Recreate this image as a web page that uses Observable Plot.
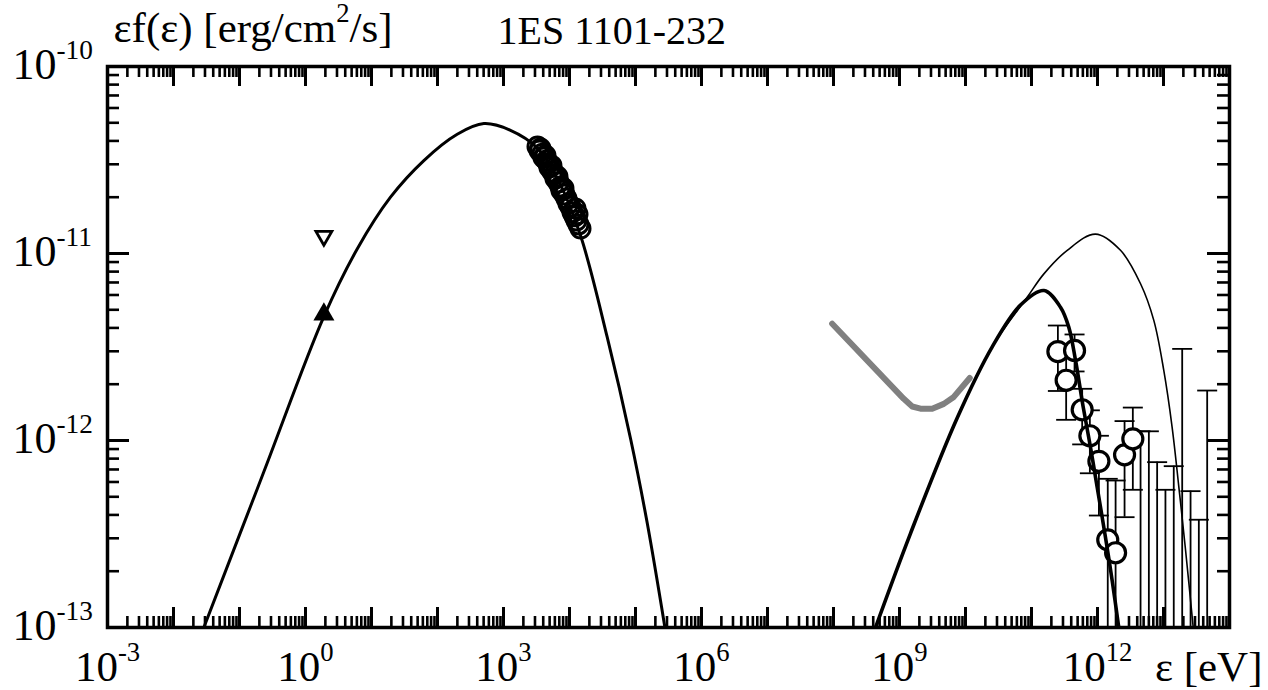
<!DOCTYPE html>
<html>
<head>
<meta charset="utf-8">
<script src="https://cdn.jsdelivr.net/npm/d3@7"></script>
<script src="https://cdn.jsdelivr.net/npm/@observablehq/plot@0.6"></script>
<style>
  html, body { margin: 0; padding: 0; background: #fff; }
</style>
</head>
<body>
<div id="chart"></div>
<script>
// ---------------- data ----------------
// synchrotron model curve (thick black, left hump)
const syncE = [2.88e-2, 0.233, 1.89, 6.07, 19.4, 62.1, 199, 504, 1276, 3243, 6516, 1.469e4, 3.72e4, 8.39e4, 1.503e5, 2.79e5];
const syncF = [1.0e-13, 6.78e-13, 4.58e-12, 1.057e-11, 2.0e-11, 3.14e-11, 4.34e-11, 4.95e-11, 4.56e-11, 3.67e-11, 2.53e-11, 1.247e-11, 3.58e-12, 1.028e-12, 3.63e-13, 1.0e-13];

// inverse-Compton model, EBL-absorbed (thick black, right hump)
const icE = [4.33e8, 1.47e9, 7.48e9, 2.54e10, 6.81e10, 1.54e11, 2.75e11, 3.67e11, 4.65e11, 6.07e11, 7.83e11, 9.89e11, 1.32e12, 1.67e12, 2.10e12];
const icF = [1.0e-13, 3.19e-13, 1.32e-12, 3.17e-12, 5.30e-12, 6.34e-12, 5.16e-12, 4.04e-12, 2.68e-12, 1.51e-12, 9.20e-13, 5.62e-13, 3.04e-13, 1.78e-13, 1.0e-13];

// inverse-Compton model, intrinsic (thin black)
const ic2E = [4.33e8, 1.47e9, 7.48e9, 2.54e10, 8.59e10, 1.54e11, 3.48e11, 9.33e11, 2.23e12, 4.49e12, 7.13e12, 1.01e13, 1.35e13, 1.71e13, 2.15e13, 2.82e13];
const ic2F = [1.0e-13, 3.19e-13, 1.32e-12, 3.17e-12, 5.83e-12, 7.78e-12, 1.04e-11, 1.27e-11, 1.04e-11, 6.89e-12, 4.39e-12, 2.37e-12, 1.18e-12, 5.62e-13, 2.63e-13, 1.0e-13];

// Fermi-LAT limit (grey)
const grayE = [9.55e7, 1.16e9, 1.56e9, 2.08e9, 3.13e9, 4.69e9, 6.65e9, 1.16e10];
const grayF = [4.21e-12, 1.67e-12, 1.52e-12, 1.48e-12, 1.48e-12, 1.57e-12, 1.71e-12, 2.16e-12];

// X-ray data (open circles)
const xrayE = [3273, 3511, 3636, 3897, 4037, 4329, 4483, 4806, 4977, 5335, 5525, 5923, 6134, 6576, 6810, 7301, 7561, 8106, 8395, 9000, 9656, 1.035e4, 1.110e4, 1.190e4, 1.277e4, 1.369e4, 1.468e4, 1.322e4, 1.233e4];
const xrayF = [3.73e-11, 3.55e-11, 3.64e-11, 3.42e-11, 3.26e-11, 3.34e-11, 3.14e-11, 3.03e-11, 2.88e-11, 2.95e-11, 2.74e-11, 2.65e-11, 2.52e-11, 2.58e-11, 2.40e-11, 2.28e-11, 2.17e-11, 2.23e-11, 2.07e-11, 1.97e-11, 1.85e-11, 1.78e-11, 1.66e-11, 1.58e-11, 1.50e-11, 1.43e-11, 1.36e-11, 1.62e-11, 1.74e-11];

// optical points (triangles)
const optE = [1.9];
const optF = [4.72e-12];
const optUpperE = [1.9];
const optUpperF = [1.24e-11];

// TeV data with error bars (lo = 0: bar reaches the axis)
const tevE  = [2.51e11, 4.49e11, 3.35e11, 5.86e11, 7.66e11, 1.05e12, 1.43e12, 1.88e12, 2.57e12, 3.43e12];
const tevF  = [2.99e-12, 3.03e-12, 2.10e-12, 1.46e-12, 1.06e-12, 7.74e-13, 2.94e-13, 2.51e-13, 8.38e-13, 1.02e-12];
const tevHi = [4.12e-12, 3.69e-12, 2.85e-12, 1.89e-12, 1.45e-12, 1.06e-12, 6.24e-13, 6.11e-13, 1.27e-12, 1.50e-12];
const tevLo = [1.84e-12, 2.34e-12, 1.29e-12, 9.53e-13, 6.68e-13, 3.97e-13, 0, 0, 3.89e-13, 5.45e-13];

// TeV bins with only an upper bar
const ulE  = [4.49e12, 6.00e12, 8.01e12, 1.07e13, 1.43e13, 1.92e13, 2.57e13, 3.43e13, 4.59e13];
const ulHi = [1.12e-12, 1.12e-12, 7.66e-13, 5.45e-13, 7.29e-13, 3.09e-12, 5.36e-13, 3.77e-13, 1.85e-12];

// axes
const xTickValues = [1e-3, 1e0, 1e3, 1e6, 1e9, 1e12];
const xTickLabels = ["10^{-3}", "10^{0}", "10^{3}", "10^{6}", "10^{9}", "10^{12}"];
const yTickValues = [1e-13, 1e-12, 1e-11, 1e-10];
const yTickLabels = ["10^{-13}", "10^{-12}", "10^{-11}", "10^{-10}"];
const xDomain = [1e-3, 1e14];
const yDomain = [1e-13, 1e-10];
const yTitle = "εf(ε) [erg/cm^{2}/s]";
const xTitle = "ε [eV]";
const chartTitle = "1ES 1101-232";

// ---------------- layout ----------------
const W = 1268, H = 690;
const mL = 107, mR = 39, mT = 66, mB = 63;
const innerW = W - mL - mR, innerH = H - mT - mB;

const zip = (xs, ys) => xs.map((x, i) => ({x, y: ys[i]}));
const sync = zip(syncE, syncF);
const ic = zip(icE, icF);
const ic2 = zip(ic2E, ic2F);
const gray = zip(grayE, grayF);
const xray = zip(xrayE, xrayF);
const tev = tevE.map((x, i) => ({x, y: tevF[i], hi: tevHi[i], lo: tevLo[i]}));
const ul = ulE.map((x, i) => ({x, hi: ulHi[i], lo: 0}));
const bars = tev.concat(ul);
const caps = bars.map(d => ({x: d.x, y: d.hi})).concat(tev.filter(d => d.lo > 0).map(d => ({x: d.x, y: d.lo})));

const xMajor = d3.range(-3, 15).map(e => Math.pow(10, e));
const xMinor = d3.range(-3, 14).flatMap(e => d3.range(2, 10).map(k => k * Math.pow(10, e)));
const yMajor = yTickValues;
const yMinor = d3.range(-13, -10).flatMap(e => d3.range(2, 10).map(k => k * Math.pow(10, e)));

const capSymbol = {draw(ctx, size) { const r = Math.sqrt(size / Math.PI); ctx.moveTo(-r, 0); ctx.lineTo(r, 0); }};

const xt = xTickValues.map((v, i) => ({v, label: xTickLabels[i]}));
const yt = yTickValues.map((v, i) => ({v, label: yTickLabels[i]}));

const chart = Plot.plot({
  width: W, height: H,
  marginLeft: mL, marginRight: mR, marginTop: mT, marginBottom: mB,
  x: {type: "log", domain: xDomain, axis: null},
  y: {type: "log", domain: yDomain, axis: null},
  style: {fontFamily: "'Liberation Serif', 'Times New Roman', serif", background: "#fff", color: "#000", overflow: "visible"},
  marks: [
    // ticks
    Plot.tickX(xMinor, {x: d => d, insetTop: innerH - 11, strokeWidth: 2.6}),
    Plot.tickX(xMinor, {x: d => d, insetBottom: innerH - 11, strokeWidth: 2.6}),
    Plot.tickX(xMajor, {x: d => d, insetTop: innerH - 20, strokeWidth: 3}),
    Plot.tickX(xMajor, {x: d => d, insetBottom: innerH - 20, strokeWidth: 3}),
    Plot.tickY(yMinor, {y: d => d, insetRight: innerW - 12, strokeWidth: 2.6}),
    Plot.tickY(yMinor, {y: d => d, insetLeft: innerW - 12, strokeWidth: 2.6}),
    Plot.tickY(yMajor, {y: d => d, insetRight: innerW - 22, strokeWidth: 3}),
    Plot.tickY(yMajor, {y: d => d, insetLeft: innerW - 22, strokeWidth: 3}),
    Plot.frame({strokeWidth: 3.5}),
    // data
    Plot.line(gray, {x: "x", y: "y", stroke: "#808080", strokeWidth: 6, strokeLinecap: "round", strokeLinejoin: "round", clip: true}),
    Plot.line(ic2, {x: "x", y: "y", stroke: "#000", strokeWidth: 1.6, curve: "catmull-rom", clip: true}),
    Plot.ruleX(bars, {x: "x", y1: d => d.lo > 0 ? d.lo : yDomain[0], y2: "hi", stroke: "#000", strokeWidth: 1.8, clip: true}),
    Plot.dot(caps, {x: "x", y: "y", r: 10, symbol: capSymbol, fill: "none", stroke: "#000", strokeWidth: 1.8}),
    Plot.dot(tev, {x: "x", y: "y", r: 10, fill: "#fff", stroke: "#000", strokeWidth: 3.2}),
    Plot.line(ic, {x: "x", y: "y", stroke: "#000", strokeWidth: 3.6, curve: "catmull-rom", clip: true}),
    Plot.line(sync, {x: "x", y: "y", stroke: "#000", strokeWidth: 3, curve: "catmull-rom", clip: true}),
    Plot.dot(xray, {x: "x", y: "y", r: 9.5, fill: "none", stroke: "#000", strokeWidth: 3}),
    Plot.dot(zip(optE, optF), {x: "x", y: "y", r: 7.8, symbol: "triangle", fill: "#000", stroke: "none"}),
    Plot.dot(zip(optUpperE, optUpperF), {x: "x", y: "y", r: 5.9, symbol: "triangle", rotate: 180, fill: "#fff", stroke: "#000", strokeWidth: 2.8}),
    // tick labels
    Plot.text(xt, {x: "v", text: "label", frameAnchor: "bottom", textAnchor: "middle", lineAnchor: "bottom", dy: 53, fontSize: 43}),
    Plot.text(yt, {y: "v", text: "label", frameAnchor: "left", textAnchor: "start", lineAnchor: "bottom", dx: -95, dy: 12, fontSize: 44}),
    // titles
    Plot.text([yTitle], {text: d => d, frameAnchor: "top-left", textAnchor: "start", lineAnchor: "bottom", dx: 6, dy: -25, fontSize: 43}),
    Plot.text([chartTitle], {text: d => d, frameAnchor: "top-left", textAnchor: "start", lineAnchor: "bottom", dx: 390, dy: -23, fontSize: 40}),
    Plot.text([xTitle], {text: d => d, frameAnchor: "bottom-right", textAnchor: "end", lineAnchor: "bottom", dx: 33, dy: 53, fontSize: 43})
  ]
});

// turn "^{...}" into raised tspans (real text kept)
function applySuperscripts(svg) {
  const ns = "http://www.w3.org/2000/svg";
  svg.querySelectorAll("text").forEach(el => {
    const s = el.textContent;
    if (!s.includes("^{")) return;
    const host = el.closest("[font-size]");
    const fs = host ? parseFloat(host.getAttribute("font-size")) : 16;
    const shift = fs * 0.45;
    const parts = s.split(/\^\{([^}]*)\}/);
    while (el.firstChild) el.removeChild(el.firstChild);
    let raised = false;
    parts.forEach((p, i) => {
      if (i % 2 === 1) {
        const t = document.createElementNS(ns, "tspan");
        t.setAttribute("font-size", (fs * 0.62).toFixed(1));
        t.setAttribute("dy", (-shift).toFixed(1));
        t.textContent = p;
        el.appendChild(t);
        raised = true;
      } else if (p !== "") {
        const t = document.createElementNS(ns, "tspan");
        if (raised) { t.setAttribute("dy", shift.toFixed(1)); raised = false; }
        t.textContent = p;
        el.appendChild(t);
      }
    });
  });
}
applySuperscripts(chart);
document.getElementById("chart").appendChild(chart);
</script>
</body>
</html>
